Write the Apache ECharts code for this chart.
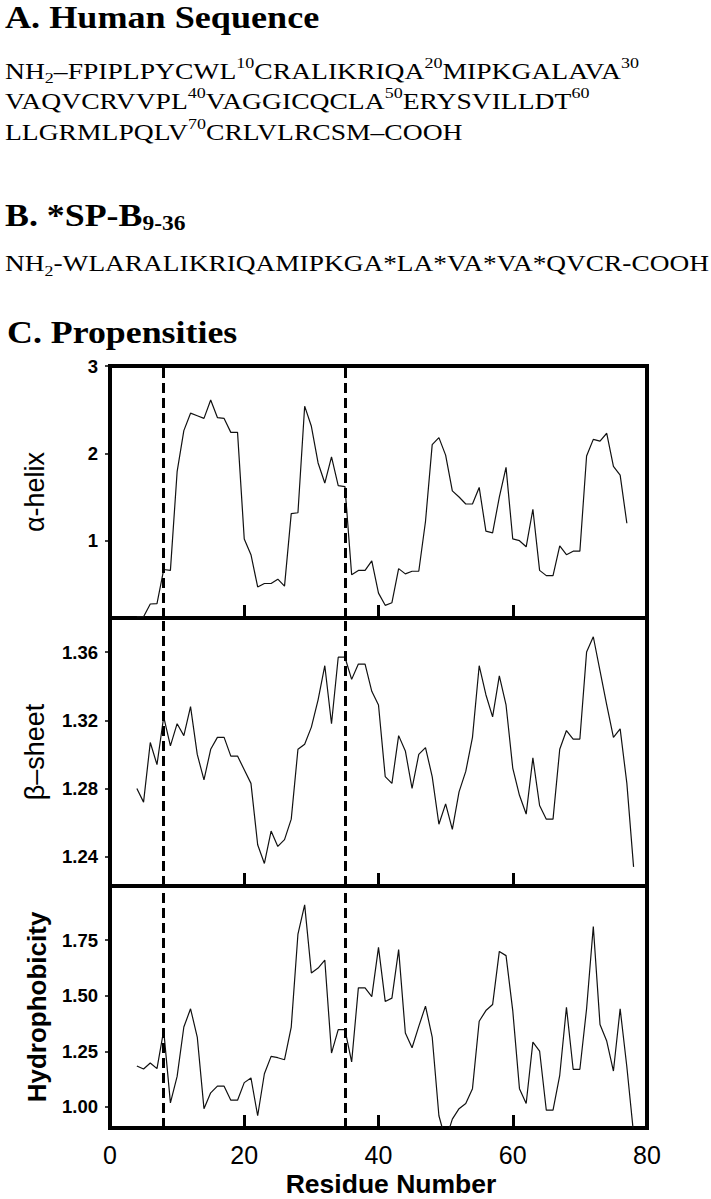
<!DOCTYPE html>
<html><head><meta charset="utf-8">
<script src="https://cdn.jsdelivr.net/npm/echarts@6/dist/echarts.min.js"></script>
<style>html,body{margin:0;padding:0;background:#fff}#c{width:711px;height:1199px}</style>
</head><body><div id="c"></div>
<script>
// ---------- data ----------
const residues = [4,5,6,7,8,9,10,11,12,13,14,15,16,17,18,19,20,21,22,23,24,25,26,27,28,29,30,31,32,33,34,35,36,37,38,39,40,41,42,43,44,45,46,47,48,49,50,51,52,53,54,55,56,57,58,59,60,61,62,63,64,65,66,67,68,69,70,71,72,73,74,75,76,77,78];
const alphaHelix = [0.13,0.13,0.275,0.28,0.67,0.66,1.79,2.26,2.46,2.43,2.40,2.61,2.41,2.40,2.24,2.24,1.02,0.84,0.47,0.51,0.51,0.56,0.48,1.31,1.32,2.54,2.31,1.89,1.66,1.96,1.63,1.62,0.61,0.66,0.66,0.77,0.40,0.26,0.29,0.68,0.62,0.65,0.65,1.22,2.10,2.18,1.98,1.57,1.50,1.42,1.42,1.61,1.11,1.09,1.50,1.84,1.02,1.00,0.93,1.36,0.66,0.60,0.60,0.94,0.84,0.88,0.88,1.97,2.16,2.14,2.23,1.85,1.75,1.20];
const betaSheet = [1.280,1.272,1.307,1.294,1.322,1.305,1.318,1.311,1.328,1.300,1.285,1.303,1.310,1.310,1.299,1.299,1.291,1.283,1.247,1.236,1.255,1.246,1.250,1.262,1.303,1.306,1.316,1.332,1.352,1.318,1.357,1.357,1.344,1.353,1.353,1.337,1.329,1.287,1.283,1.311,1.302,1.280,1.300,1.304,1.287,1.259,1.271,1.256,1.278,1.290,1.310,1.352,1.335,1.322,1.346,1.329,1.292,1.276,1.265,1.298,1.270,1.262,1.262,1.303,1.314,1.309,1.309,1.360,1.369,1.349,1.329,1.310,1.315,1.283,1.234];
const hydrophobicity = [1.184,1.170,1.197,1.172,1.344,1.018,1.137,1.359,1.441,1.314,0.992,1.063,1.093,1.093,1.030,1.030,1.109,1.130,0.960,1.149,1.227,1.221,1.212,1.359,1.777,1.908,1.602,1.624,1.660,1.242,1.347,1.347,1.202,1.535,1.535,1.496,1.717,1.474,1.489,1.707,1.332,1.266,1.362,1.453,1.314,0.960,0.850,0.945,0.992,1.015,1.082,1.385,1.433,1.460,1.699,1.680,1.433,1.082,1.015,1.291,1.251,0.985,0.985,1.142,1.448,1.169,1.169,1.441,1.811,1.370,1.296,1.161,1.441,1.179,0.880];
const dividers = [8, 35];
const xTicks = [0, 20, 40, 60, 80];
const alphaTicks = [1, 2, 3];
const betaTicks = [1.24, 1.28, 1.32, 1.36];
const hydroTicks = [1.00, 1.25, 1.50, 1.75];
const panelNames = ['α-helix', 'β–sheet', 'Hydrophobicity'];
const xName = 'Residue Number';
const headerA = 'A. Human Sequence';
const headerC = 'C. Propensities';
const seqHuman = '{n|NH}{sub|2}{n|–FPIPLPYCWL}{sup|10}{n|CRALIKRIQA}{sup|20}{n|MIPKGALAVA}{sup|30}\n' +
                 '{n|VAQVCRVVPL}{sup|40}{n|VAGGICQCLA}{sup|50}{n|ERYSVILLDT}{sup|60}\n' +
                 '{n|LLGRMLPQLV}{sup|70}{n|CRLVLRCSM–COOH}';
const headerB = '{h|B. *SP-B}{hs|9-36}';
const seqB = '{n|NH}{sub|2}{n|-WLARALIKRIQAMIPKGA*LA*VA*VA*QVCR-COOH}';

// ---------- chart ----------
const SANS = 'Liberation Sans, Arial, sans-serif';
const SERIF = 'Liberation Serif, Times New Roman, serif';
const chart = echarts.init(document.getElementById('c'), null, {renderer: 'svg'});

const grids = [
  {left: 110, width: 537, top: 366, height: 252},
  {left: 110, width: 537, top: 618, height: 268},
  {left: 110, width: 537, top: 886, height: 242}
].map(g => Object.assign(g, {show: true, borderColor: '#000', borderWidth: 4, backgroundColor: 'transparent'}));

const yCfg = [
  {min: 0.115, max: 3.0, ticks: alphaTicks, fmt: v => String(Math.round(v)), nameWeight: 'normal', nameSize: 27, gap: 62},
  {min: 1.2228, max: 1.38, ticks: betaTicks, fmt: v => v.toFixed(2), nameWeight: 'normal', nameSize: 27, gap: 62},
  {min: 0.905, max: 1.993, ticks: hydroTicks, fmt: v => v.toFixed(2), nameWeight: 'bold', nameSize: 26, gap: 60}
];
const seriesData = [alphaHelix, betaSheet, hydrophobicity];

const xAxes = [0, 1, 2].map(i => ({
  gridIndex: i, type: 'value', min: 0, max: 80,
  axisLine: {show: true, onZero: false, lineStyle: {color: '#000', width: 4}},
  axisTick: {show: true, inside: true, length: 13, customValues: xTicks, lineStyle: {color: '#000', width: 3}},
  axisLabel: {show: i === 2, customValues: xTicks, margin: 14, color: '#000', fontFamily: SANS, fontSize: 25},
  splitLine: {show: false},
  name: i === 2 ? xName : '', nameLocation: 'middle', nameGap: 42,
  nameTextStyle: {color: '#000', fontFamily: SANS, fontWeight: 'bold', fontSize: 26.5, padding: [0, 0, 0, 25]}
}));

const yAxes = yCfg.map((c, i) => ({
  gridIndex: i, type: 'value', min: c.min, max: c.max,
  axisLine: {show: true, onZero: false, lineStyle: {color: '#000', width: 4}},
  axisTick: {show: true, inside: false, length: 5, customValues: c.ticks, lineStyle: {color: '#000', width: 1.5}},
  axisLabel: {customValues: c.ticks, formatter: c.fmt, margin: 12, color: '#000', fontFamily: SANS, fontWeight: 'bold', fontSize: 18.5},
  splitLine: {show: false},
  name: panelNames[i], nameLocation: 'middle', nameGap: c.gap,
  nameTextStyle: {color: '#000', fontFamily: SANS, fontWeight: c.nameWeight, fontSize: c.nameSize}
}));

const series = seriesData.map((arr, i) => ({
  type: 'line', xAxisIndex: i, yAxisIndex: i,
  data: arr.map((v, k) => [residues[k], v]),
  symbol: 'none', showSymbol: false, clip: true,
  lineStyle: {color: '#111', width: 1.2},
  markLine: {
    symbol: 'none', silent: true, label: {show: false},
    lineStyle: {color: '#000', width: 3, type: [10, 5]},
    data: dividers.map(d => ({xAxis: d}))
  }
}));

const seqRich = {
  n: {fontFamily: SERIF, fontSize: 23, lineHeight: 30.5, fill: '#000'},
  sup: {fontFamily: SERIF, fontSize: 15, lineHeight: 21, verticalAlign: 'top', fill: '#000'},
  sub: {fontFamily: SERIF, fontSize: 15, lineHeight: 17, verticalAlign: 'bottom', fill: '#000'}
};

const graphic = {elements: [
  {type: 'text', x: 5, y: 17, scaleX: 1.13,
   style: {text: headerA, font: 'bold 32px ' + SERIF, fill: '#000', verticalAlign: 'middle', align: 'left'}},
  {type: 'text', x: 5, y: 55.5, scaleX: 1.2,
   style: {text: seqHuman, font: '23px ' + SERIF, fill: '#000', verticalAlign: 'top', align: 'left', rich: seqRich}},
  {type: 'text', x: 5, y: 197, scaleX: 1.12,
   style: {text: headerB, font: 'bold 32px ' + SERIF, fill: '#000', verticalAlign: 'top', align: 'left',
     rich: {
       h: {fontFamily: SERIF, fontWeight: 'bold', fontSize: 32, lineHeight: 36, fill: '#000'},
       hs: {fontFamily: SERIF, fontWeight: 'bold', fontSize: 21, lineHeight: 24, verticalAlign: 'bottom', fill: '#000'}
     }}},
  {type: 'text', x: 5, y: 248, scaleX: 1.19,
   style: {text: seqB, font: '23px ' + SERIF, fill: '#000', verticalAlign: 'top', align: 'left', rich: seqRich}},
  {type: 'text', x: 7, y: 332.5, scaleX: 1.12,
   style: {text: headerC, font: 'bold 32px ' + SERIF, fill: '#000', verticalAlign: 'middle', align: 'left'}}
]};

chart.setOption({
  animation: false,
  backgroundColor: '#fff',
  grid: grids,
  xAxis: xAxes,
  yAxis: yAxes,
  series: series,
  graphic: graphic
});
</script></body></html>
